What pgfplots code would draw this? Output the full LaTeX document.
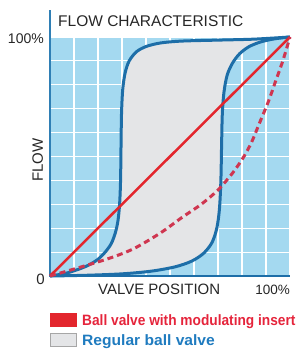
\documentclass[border=0pt]{standalone}
\usepackage{fontspec}
\setmainfont{Liberation Sans}
\usepackage{pgfplots}
\pgfplotsset{compat=1.18}
\definecolor{bgblue}{HTML}{A4D9F0}
\definecolor{fillgray}{HTML}{E4E5E7}
\definecolor{curveblue}{HTML}{1D6EA8}
\definecolor{axisblue}{HTML}{2F7FB5}
\definecolor{linered}{HTML}{E3262D}
\definecolor{dashred}{HTML}{CF3650}
\definecolor{txtred}{HTML}{E5243B}
\definecolor{txtblue}{HTML}{1F7BBF}
\definecolor{txtdark}{HTML}{262626}
\begin{document}
\begin{tikzpicture}
\path[use as bounding box] (0pt,0pt) rectangle (297pt,354pt);
\begin{axis}[
  at={(50pt,78pt)}, anchor=south west,
  scale only axis, width=240pt, height=239pt,
  xmin=0, xmax=100, ymin=0, ymax=100,
  axis line style={draw=none},
  xtick={0,10,...,100}, ytick={0,10,...,100},
  xticklabels={}, yticklabels={},
  major tick length=0pt,
  grid=major, grid style={white, line width=1.2pt},
  axis background/.style={fill=bgblue},
  clip=false,
]
\addplot[fill=fillgray, draw=none, smooth] coordinates {
(0,0) (6,1) (11,2.5) (16,4.5) (20,7) (23,10) (25.5,13.5) (27.2,18) (28.3,23) (29,30) (29.4,40) (29.6,55) (29.8,68) (30.3,78) (31.3,85) (33,90) (36,93.8) (40,96) (46,97.5) (55,98.3) (70,98.7) (85,99.1) (100,100)
(94,99.3) (88,98) (83,96) (79,93) (76,89) (73.8,84) (72.5,77) (71.8,68) (71.5,55) (71.2,40) (70.6,28) (69.5,20) (67.5,14) (64,9.5) (59,6.2) (52,3.8) (42,2) (30,0.9) (15,0.3) (0,0)};
\draw[axisblue, line width=2pt] (axis cs:0,-0.4) -- (axis cs:0,111.3);
\draw[curveblue, line width=2pt] (axis cs:0,0) -- (axis cs:100,0);
\addplot[curveblue, line width=3pt, smooth] coordinates {
(0,0) (6,1) (11,2.5) (16,4.5) (20,7) (23,10) (25.5,13.5) (27.2,18) (28.3,23) (29,30) (29.4,40) (29.6,55) (29.8,68) (30.3,78) (31.3,85) (33,90) (36,93.8) (40,96) (46,97.5) (55,98.3) (70,98.7) (85,99.1) (100,100)};
\addplot[curveblue, line width=3pt, smooth] coordinates {
(0,0) (15,0.3) (30,0.9) (42,2) (52,3.8) (59,6.2) (64,9.5) (67.5,14) (69.5,20) (70.6,28) (71.2,40) (71.5,55) (71.8,68) (72.5,77) (73.8,84) (76,89) (79,93) (83,96) (88,98) (94,99.3) (100,100)};
\addplot[linered, line width=2.5pt] coordinates {(0,0) (100,100)};
\addplot[dashred, line width=3pt, dash pattern=on 6pt off 4pt, smooth] coordinates {
(0,0) (12,3.5) (25,7.5) (35,11.5) (46,18) (55,24.5) (63,30) (70,36) (76,43) (80.5,49.5) (84,56) (87.5,64.5) (91,73) (94,81.5) (97,90) (100,100)};
\end{axis}
\node[anchor=base west, inner sep=0, text=txtdark, font=\fontsize{15.5}{15.5}\selectfont] at (58pt,327pt) {FLOW CHARACTERISTIC};
\node[anchor=base east, inner sep=0, text=txtdark, font=\fontsize{14}{14}\selectfont] at (44pt,310.7pt) {100\%};
\node[anchor=base east, inner sep=0, text=txtdark, font=\fontsize{15}{15}\selectfont] at (45pt,69pt) {0};
\node[anchor=base, rotate=90, inner sep=0, text=txtdark, font=\fontsize{15}{15}\selectfont] at (43pt,194pt) {FLOW};
\node[anchor=base west, inner sep=0, text=txtdark, font=\fontsize{15}{15}\selectfont] at (98pt,59pt) {VALVE POSITION};
\node[anchor=base east, inner sep=0, text=txtdark, font=\fontsize{13.5}{13.5}\selectfont] at (290pt,59pt) {100\%};
\fill[linered] (50pt,27pt) rectangle (77pt,40.5pt);
\filldraw[fill=fillgray, draw=black!35, line width=0.6pt] (50.3pt,7.3pt) rectangle (76.7pt,20.7pt);
\node[anchor=base west, inner sep=0, text=txtred, font=\fontsize{15}{15}\selectfont\bfseries] at (82pt,28pt) {\scalebox{0.914}[1]{Ball valve with modulating insert}};
\node[anchor=base west, inner sep=0, text=txtblue, font=\fontsize{15}{15}\selectfont\bfseries] at (82pt,8.5pt) {\scalebox{1.04}[1]{Regular ball valve}};
\end{tikzpicture}
\end{document}
